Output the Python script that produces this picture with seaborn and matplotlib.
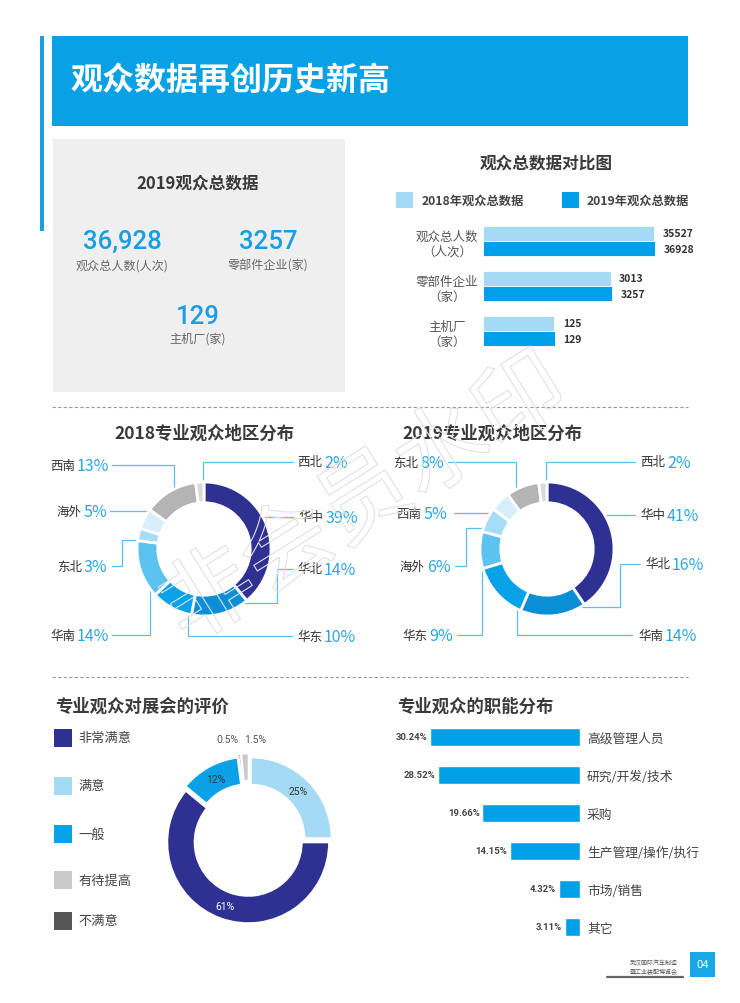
import numpy as np
import pandas as pd
import matplotlib
matplotlib.use("Agg")
import matplotlib.pyplot as plt
import matplotlib.patheffects as pe
from matplotlib.patches import Rectangle
import seaborn as sns

# ---------------- data ----------------
compare_categories = ["观众总人数\n（人次）", "零部件企业\n（家）", "主机厂\n（家）"]
compare_2018 = [35527, 3013, 125]
compare_2019 = [36928, 3257, 129]
year_labels = ["2018年观众总数据", "2019年观众总数据"]

summary_labels = ["观众总人数(人次)", "零部件企业(家)", "主机厂(家)"]

region_2018_names = ["华中", "华北", "华东", "华南", "东北", "海外", "西南", "西北"]
region_2018_pct = [39, 14, 10, 14, 3, 5, 13, 2]
region_2019_names = ["华中", "华北", "华南", "华东", "海外", "西南", "东北", "西北"]
region_2019_pct = [41, 16, 14, 9, 6, 5, 8, 2]

rating_names = ["非常满意", "满意", "一般", "有待提高", "不满意"]
rating_pct = [61, 25, 12, 1.5, 0.5]

function_names = ["高级管理人员", "研究/开发/技术", "采购", "生产管理/操作/执行", "市场/销售", "其它"]
function_pct = [30.24, 28.52, 19.66, 14.15, 4.32, 3.11]

# ---------------- style ----------------
sns.set_theme(style="white")
plt.rcParams["font.family"] = ["Noto Sans CJK SC", "DejaVu Sans"]
plt.rcParams["axes.facecolor"] = "none"

C_HEAD = "#08a1e6"
C_BLUE = "#00a0e9"
C_LIGHT = "#a5daf5"
C_NAVY = "#2e3191"
C_PCT = "#2aa8e2"
C_LINE = "#5bbfee"
REGION_COLORS = ["#2e3191", "#0a8fd6", "#08a2e8", "#5cc3f0", "#a7dcf6", "#d6effb", "#b4b4b4", "#dadada"]
RATING_COLORS = {"非常满意": "#2e3191", "满意": "#a5daf5", "一般": "#0ba1e7",
                 "有待提高": "#c9c9c9", "不满意": "#565656"}

W, H = 740, 1004
fig = plt.figure(figsize=(W / 100, H / 100), dpi=100)
fig.patch.set_facecolor("white")


def rect(x, y, w, h):
    return [x / W, 1 - (y + h) / H, w / W, h / H]


bg = fig.add_axes([0, 0, 1, 1])
bg.set_xlim(0, W)
bg.set_ylim(H, 0)
bg.axis("off")

# ---------------- header ----------------
bg.add_patch(Rectangle((40, 37), 4, 195, color="#1a9fe3", lw=0))
bg.add_patch(Rectangle((52, 37), 636, 90, color=C_HEAD, lw=0))
bg.text(70, 81, "观众数据再创历史新高", color="white", fontsize=23, fontweight="bold",
        va="center", ha="left")

# ---------------- summary box ----------------
bg.add_patch(Rectangle((53, 140), 292, 253, color="#efefef", lw=0))
bg.text(198, 183, "2019观众总数据", fontsize=12, fontweight="bold", color="#3a3a3a",
        ha="center", va="center")


def fmt_num(v):
    return f"{v:,}" if v >= 10000 else str(v)


summary_pos = [(122, 242, 266), (268, 242, 266), (198, 317, 339)]
for v, lab, (x, yn, yl) in zip(compare_2019, summary_labels, summary_pos):
    bg.text(x, yn, fmt_num(v), fontsize=18.5, color="#1b9de2", ha="center", va="center",
            family=["Roboto", "DejaVu Sans"], fontweight="medium")
    bg.text(x, yl, lab, fontsize=8.7, color="#666666", ha="center", va="center")

# ---------------- comparison bar chart ----------------
bg.text(546, 163, "观众总数据对比图", fontsize=12, fontweight="bold", color="#3a3a3a",
        ha="center", va="center")
for (sx, tx), lab, col in zip([(396, 422), (562, 587)], year_labels, [C_LIGHT, C_BLUE]):
    bg.add_patch(Rectangle((sx, 193), 17, 16, color=col, lw=0))
    bg.text(tx, 201.5, lab, fontsize=8.8, fontweight="bold", color="#444444", va="center")

df = pd.DataFrame({
    "cat": compare_categories * 2,
    "year": [year_labels[0]] * 3 + [year_labels[1]] * 3,
    "value": compare_2018 + compare_2019,
})
axb = fig.add_axes(rect(484, 219.5, 176.4, 135))
sns.barplot(data=df, y="cat", x="value", hue="year", orient="h",
            palette=[C_LIGHT, C_BLUE], width=0.68, saturation=1,
            edgecolor="white", linewidth=0.6, ax=axb, legend=False)
axb.set_xscale("log")
axb.set_xlim(2.33, 50000)
axb.set_ylim(2.5, -0.5)
for c in axb.containers:
    axb.bar_label(c, fmt="%d", padding=6, fontsize=7.5, fontweight="bold", color="#333333")
axb.set_yticks(range(len(compare_categories)))
axb.set_yticklabels(compare_categories, fontsize=9, color="#555555", linespacing=1.25)
for t in axb.get_yticklabels():
    t.set_ha("center")
    t.set_multialignment("center")
axb.tick_params(axis="y", length=0, pad=26.6)
axb.set_xticks([])
axb.minorticks_off()
axb.tick_params(axis="x", which="both", length=0, labelbottom=False)
axb.set_xlabel("")
axb.set_ylabel("")
for s in axb.spines.values():
    s.set_visible(False)

# ---------------- separators ----------------
for yy in (408, 678):
    bg.plot([52, 688], [yy, yy], color="#9a9a9a", lw=0.8, ls=(0, (3, 2)))


# ---------------- region donuts ----------------
def in_range(a, t1, t2):
    while a < t1:
        a += 360
    while a >= t1 + 360:
        a -= 360
    return a <= t2


def clamp_angle(a, t1, t2):
    while a < t1:
        a += 360
    while a >= t1 + 360:
        a -= 360
    if a <= t2:
        return a
    m = min(3.0, (t2 - t1) / 2)
    if (a - t2) < (t1 + 360 - a):
        return t2 - m
    return t1 + m


def draw_region_donut(cx, cy, r, names, pcts, title, tx, layout):
    bg.text(tx, 434, title, fontsize=12.5, fontweight="bold", color="#3a3a3a",
            ha="center", va="center")
    ax = fig.add_axes(rect(cx - r, cy - r, 2 * r, 2 * r))
    wedges, _ = ax.pie(pcts, colors=REGION_COLORS, startangle=90, counterclock=False,
                       radius=1, wedgeprops=dict(width=0.31, edgecolor="white", linewidth=2))
    ax.set_xlim(-1, 1)
    ax.set_ylim(-1, 1)
    ax.axis("off")
    for w, name, p in zip(wedges, names, pcts):
        tx_, ly, x0, elbow, straight, hint = layout[name]
        bg.text(tx_, ly, name, fontsize=9, color="#333333", va="center", ha="left")
        bg.text(tx_ + 27, ly + 0.5, f"{p}%", fontsize=11.5, color=C_PCT, va="center", ha="left")
        t1, t2 = w.theta1, w.theta2
        pts = None
        if straight:
            dy = cy - ly
            if abs(dy) < r:
                side = 1 if np.cos(np.radians(hint)) > 0 else -1
                dx = np.sqrt(r * r - dy * dy)
                ang = np.degrees(np.arctan2(dy, side * dx))
                if in_range(ang, t1, t2):
                    pts = [(x0, ly), (cx + side * dx, ly)]
        if pts is None:
            a = np.radians(clamp_angle(hint, t1, t2))
            tpx, tpy = cx + r * np.cos(a), cy - r * np.sin(a)
            if elbow is None:
                pts = [(x0, ly), (tpx, ly), (tpx, tpy)]
            else:
                pts = [(x0, ly), (elbow, ly), (elbow, tpy), (tpx, tpy)]
        xs, ys = zip(*pts)
        bg.plot(xs, ys, color=C_LINE, lw=0.9, solid_joinstyle="miter")


layout_2018 = {
    "西北": (297, 463, 293, None, False, 91),
    "华中": (298, 518, 293, None, True, 28),
    "华北": (297, 570, 293, 277, False, -39),
    "华东": (297, 637, 292, None, False, -98),
    "华南": (50, 636, 112, None, False, -143),
    "东北": (57, 567, 112, 122, False, 172),
    "海外": (57, 512, 110, None, True, 148),
    "西南": (50, 466, 112, None, False, 117),
}
layout_2019 = {
    "西北": (640, 463, 635, None, False, 91),
    "华中": (640, 516, 635, None, True, 29),
    "华北": (645, 565, 640, 620, False, -39),
    "华南": (638, 636, 632, None, False, -99),
    "华东": (402, 636, 457, None, False, -145),
    "海外": (400, 567, 455, 466, False, 173),
    "西南": (396, 514, 454, None, True, 147),
    "东北": (393, 463, 448, None, False, 118),
}
draw_region_donut(204, 550, 67, region_2018_names, region_2018_pct,
                  "2018专业观众地区分布", 204, layout_2018)
draw_region_donut(547, 550, 67, region_2019_names, region_2019_pct,
                  "2019专业观众地区分布", 492, layout_2019)

# ---------------- rating donut ----------------
bg.text(55, 707, "专业观众对展会的评价", fontsize=12.5, fontweight="bold", color="#3a3a3a",
        ha="left", va="center")
legend_y = [739, 787, 835, 881, 922]
for name, yy in zip(rating_names, legend_y):
    bg.add_patch(Rectangle((54, yy - 9), 18, 18, color=RATING_COLORS[name], lw=0))
    bg.text(78, yy, name, fontsize=9.5, color="#444444", va="center", ha="left")

pie_order = ["非常满意", "一般", "不满意", "有待提高", "满意"]
vals = [rating_pct[rating_names.index(n)] for n in pie_order]
cols = [RATING_COLORS[n] for n in pie_order]
explode = [0.03 if v >= 5 else 0.07 for v in vals]
pr = 81
axr = fig.add_axes(rect(249 - pr * 1.15, 841 - pr * 1.15, 2 * pr * 1.15, 2 * pr * 1.15))
rw, _ = axr.pie(vals, colors=cols, startangle=0, counterclock=False, explode=explode,
                radius=1, wedgeprops=dict(width=0.34, edgecolor="white", linewidth=1.5))
axr.set_xlim(-1.15, 1.15)
axr.set_ylim(-1.15, 1.15)
axr.axis("off")
small_mids = [0.5 * (w.theta1 + w.theta2) for w, v in zip(rw, vals) if v < 5]
small_mean = np.mean(small_mids) if small_mids else 0
for w, v, n in zip(rw, vals, pie_order):
    mid = np.radians(0.5 * (w.theta1 + w.theta2))
    cxw, cyw = w.center
    lab = f"{v:g}%"
    if v >= 5:
        rr = 0.83
        col = "white" if n == "非常满意" else "#333333"
        axr.text(cxw + rr * np.cos(mid), cyw + rr * np.sin(mid), lab, fontsize=7.5,
                 color=col, ha="center", va="center", family=["Roboto", "DejaVu Sans"])
    else:
        rr = 1.12
        ha = "right" if np.degrees(mid) > small_mean else "left"
        axr.text(cxw + rr * np.cos(mid), cyw + rr * np.sin(mid), lab, fontsize=7.5,
                 color="#555555", ha=ha, va="bottom", family=["Roboto", "DejaVu Sans"])

# ---------------- function bars ----------------
bg.text(397, 707, "专业观众的职能分布", fontsize=12.5, fontweight="bold", color="#3a3a3a",
        ha="left", va="center")
axf = fig.add_axes(rect(421, 719, 159, 228))
sns.barplot(x=function_pct, y=function_names, orient="h", color=C_BLUE, saturation=1,
            width=0.47, ax=axf)
axf.set_xlim(32, 0)
axf.set_ylim(5.5, -0.5)
axf.yaxis.tick_right()
axf.tick_params(axis="y", length=0, pad=5, labelsize=9.2, labelcolor="#444444")
axf.tick_params(axis="x", length=0, labelbottom=False)
axf.set_xlabel("")
axf.set_ylabel("")
for s in axf.spines.values():
    s.set_visible(False)
axf.bar_label(axf.containers[0], labels=[f"{v:.2f}%" for v in function_pct], padding=2,
              fontsize=6.8, color="#444444", fontweight="bold",
              family=["Roboto", "DejaVu Sans"])

# ---------------- footer ----------------
bg.text(654, 967, "武汉国际汽车制造\n暨工业装配博览会", fontsize=4.3, color="#555555",
        ha="center", va="center", linespacing=1.4)
bg.plot([607, 683], [978, 978], color="#666666", lw=1.6)
bg.add_patch(Rectangle((690, 953), 25, 25, color="#19a7e8", lw=0))
bg.text(702.5, 965.5, "04", color="white", fontsize=8, ha="center", va="center",
        family=["Roboto", "DejaVu Sans"])

# ---------------- watermark ----------------
fig.text(366 / W, 1 - 502 / H, "非会员水印", fontsize=66, rotation=32, color=(1, 1, 1, 0),
         ha="center", va="center", zorder=10,
         path_effects=[pe.Stroke(linewidth=0.8, foreground="#e2e2e2")])

fig.savefig("out.png", dpi=100, facecolor="white")
